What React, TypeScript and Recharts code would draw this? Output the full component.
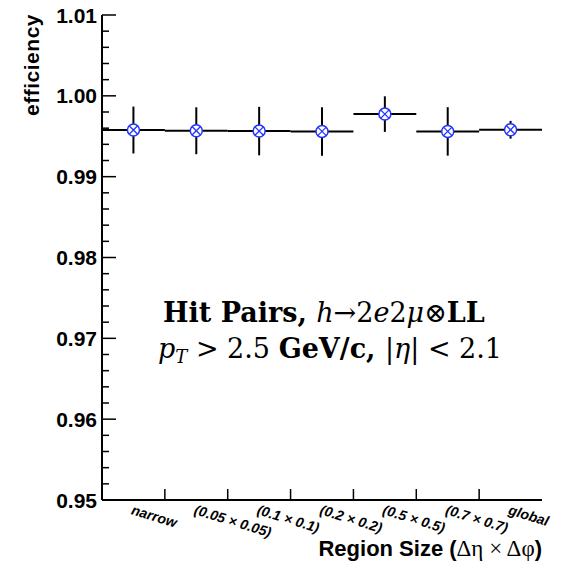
import {
  ComposedChart,
  Scatter,
  ErrorBar,
  XAxis,
  YAxis,
} from "recharts";

const regions = [
  "narrow",
  "(0.05 × 0.05)",
  "(0.1 × 0.1)",
  "(0.2 × 0.2)",
  "(0.5 × 0.5)",
  "(0.7 × 0.7)",
  "global",
];
const efficiency = [0.99577, 0.99568, 0.99564, 0.9956, 0.99774, 0.9956, 0.9958];
const effError = [0.0029, 0.0029, 0.003, 0.003, 0.0022, 0.003, 0.0011];
const yMajorTicks = [0.95, 0.96, 0.97, 0.98, 0.99, 1.0, 1.01];

const yTicks: number[] = [];
for (let i = 0; i <= 30; i++) yTicks.push(Math.round((0.95 + i * 0.002) * 1000) / 1000);

const xTicks: number[] = [];
for (let i = 0; i < regions.length; i++) {
  xTicks.push(i + 0.5);
  if (i > 0) xTicks.push(i);
}
xTicks.sort((a, b) => a - b);

const data = efficiency.map((v, i) => ({
  x: i + 0.5,
  y: v,
  ex: 0.5,
  ey: effError[i],
}));

const SANS = "'Liberation Sans', Arial, sans-serif";
const SERIF = "'Liberation Serif', 'Times New Roman', serif";
const MATH = "'DejaVu Serif', serif";

const isMajor = (v: number) => yMajorTicks.some((m) => Math.abs(m - v) < 1e-6);

function LeftTick(props: any) {
  const { x, y, payload } = props;
  const major = isMajor(payload.value);
  return (
    <g>
      <line x1={x} x2={x + (major ? 14 : 7)} y1={y} y2={y} stroke="#000" strokeWidth={1.5} />
      {major && (
        <text
          x={x - 5}
          y={y}
          dy="0.36em"
          textAnchor="end"
          fontFamily={SANS}
          fontWeight="bold"
          fontSize={21}
          fill="#000"
        >
          {payload.value.toFixed(2)}
        </text>
      )}
    </g>
  );
}

function RightTick(props: any) {
  const { x, y, payload } = props;
  const major = isMajor(payload.value);
  return <line x1={x} x2={x - (major ? 14 : 7)} y1={y} y2={y} stroke="#000" strokeWidth={1.5} />;
}

function BottomTick(props: any) {
  const { x, y, payload } = props;
  const v = payload.value;
  if (Number.isInteger(v)) {
    return <line x1={x} x2={x} y1={y} y2={y - 11} stroke="#000" strokeWidth={1.5} />;
  }
  const label = regions[Math.floor(v)];
  const lx = x - 3;
  const ly = y + 14;
  return (
    <text
      x={lx}
      y={ly}
      transform={`rotate(17 ${lx} ${ly})`}
      textAnchor="start"
      fontFamily={SANS}
      fontWeight="bold"
      fontStyle="italic"
      fontSize={14}
      fill="#000"
    >
      {label}
    </text>
  );
}

function Marker(props: any) {
  const { cx, cy } = props;
  const r = 6;
  const d = r * 0.707;
  return (
    <g>
      <circle cx={cx} cy={cy} r={r} fill="#fff" stroke="#2233ff" strokeWidth={1.5} />
      <line x1={cx - d} y1={cy - d} x2={cx + d} y2={cy + d} stroke="#2233ff" strokeWidth={1.3} />
      <line x1={cx - d} y1={cy + d} x2={cx + d} y2={cy - d} stroke="#2233ff" strokeWidth={1.3} />
    </g>
  );
}

export default function App() {
  return (
    <div style={{ position: "fixed", left: 0, top: 0, width: 563, height: 572, background: "#fff" }}>
      <ComposedChart
        width={563}
        height={572}
        data={data}
        margin={{ top: 15, right: 21, bottom: 0, left: 0 }}
      >
        <XAxis
          dataKey="x"
          type="number"
          domain={[0, 7]}
          ticks={xTicks}
          interval={0}
          tickSize={0}
          tickMargin={0}
          height={72}
          tick={<BottomTick />}
          axisLine={{ stroke: "#000", strokeWidth: 2 }}
          tickLine={false}
        />
        <XAxis
          xAxisId="top"
          orientation="top"
          type="number"
          domain={[0, 7]}
          height={0}
          tick={false}
          tickLine={false}
          axisLine={{ stroke: "#000", strokeWidth: 1.5 }}
        />
        <YAxis
          type="number"
          domain={[0.95, 1.01]}
          ticks={yTicks}
          interval={0}
          width={102}
          tickSize={0}
          tickMargin={0}
          tick={<LeftTick />}
          tickLine={false}
          axisLine={{ stroke: "#000", strokeWidth: 2 }}
        />
        <YAxis
          yAxisId="r"
          orientation="right"
          type="number"
          domain={[0.95, 1.01]}
          ticks={yTicks}
          interval={0}
          width={0}
          tickSize={0}
          tickMargin={0}
          tick={<RightTick />}
          tickLine={false}
          axisLine={{ stroke: "#000", strokeWidth: 2 }}
        />
        <Scatter dataKey="y" shape={<Marker />} isAnimationActive={false}>
          <ErrorBar dataKey="ey" direction="y" width={0} stroke="#000" strokeWidth={2} />
          <ErrorBar dataKey="ex" direction="x" width={0} stroke="#000" strokeWidth={2} />
        </Scatter>
      </ComposedChart>
      <svg
        width={563}
        height={572}
        style={{ position: "absolute", left: 0, top: 0, pointerEvents: "none" }}
      >
        <text
          x={39}
          y={14}
          transform="rotate(-90 39 14)"
          textAnchor="end"
          fontFamily={SANS}
          fontWeight="bold"
          fontSize={21}
          letterSpacing={0.5}
          fill="#000"
        >
          efficiency
        </text>
        <text x={542} y={556} textAnchor="end" fontFamily={SANS} fontWeight="bold" fontSize={22} fill="#000">
          Region Size (<tspan fontFamily={SERIF} fontWeight="normal" fontSize={23}>Δη × Δφ</tspan>)
        </text>
        <text x={163} y={322} fontFamily={MATH} fontSize={27} fill="#000">
          <tspan fontWeight="bold">Hit Pairs, </tspan>
          <tspan fontStyle="italic">h</tspan>→2<tspan fontStyle="italic">e</tspan>2
          <tspan fontStyle="italic">μ</tspan>⊗<tspan fontWeight="bold">LL</tspan>
        </text>
        <text x={158} y={358} fontFamily={MATH} fontSize={27} fill="#000">
          <tspan fontStyle="italic">p</tspan>
          <tspan fontStyle="italic" fontSize={18} dy={5}>T</tspan>
          <tspan dy={-5}> &gt; 2.5 </tspan>
          <tspan fontWeight="bold">GeV/c, </tspan>|<tspan fontStyle="italic">η</tspan>| &lt; 2.1
        </text>
      </svg>
    </div>
  );
}
